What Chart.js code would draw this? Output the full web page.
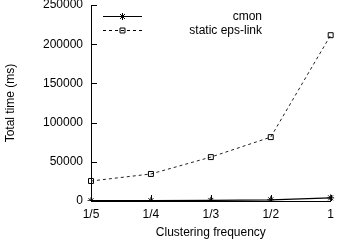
<!DOCTYPE html>
<html>
<head>
<meta charset="utf-8">
<script src="https://cdn.jsdelivr.net/npm/chart.js@4/dist/chart.umd.min.js"></script>
<style>
  html, body { margin: 0; padding: 0; background: #fff; }
  #wrap { width: 340px; height: 247px; position: relative; }
</style>
</head>
<body>
<div id="wrap"><canvas id="c"></canvas></div>
<script>
// Values
const categories = ['1/5', '1/4', '1/3', '1/2', '1'];
const cmonTimes = [300, 400, 800, 1500, 4000];
const staticTimes = [25500, 34500, 56000, 81500, 211500];
const yTicks = [0, 50000, 100000, 150000, 200000, 250000];
const seriesNames = ['cmon', 'static eps-link'];

const FONT = 'Liberation Sans, Arial, Helvetica, sans-serif';
Chart.defaults.font.family = FONT;
Chart.defaults.font.size = 12;
Chart.defaults.color = '#000';

// gnuplot style inward tick marks
const innerTicks = {
  id: 'innerTicks',
  afterDraw(chart) {
    const ctx = chart.ctx, x = chart.scales.x, y = chart.scales.y;
    const a = chart.chartArea;
    ctx.save();
    ctx.strokeStyle = '#000';
    ctx.lineWidth = 1;
    ctx.beginPath();
    yTicks.forEach(v => {
      const py = Math.round(y.getPixelForValue(v)) + 0.5;
      ctx.moveTo(a.left, py); ctx.lineTo(a.left + 6, py);
    });
    categories.forEach((c, i) => {
      const px = Math.round(x.getPixelForValue(i)) + 0.5;
      ctx.moveTo(px, a.bottom); ctx.lineTo(px, a.bottom - 6);
    });
    ctx.stroke();
    ctx.restore();
  }
};

// key in the top left: text right-aligned, sample line right of it
const keyBox = {
  id: 'keyBox',
  afterDraw(chart) {
    const ctx = chart.ctx;
    ctx.save();
    ctx.font = '12px ' + FONT;
    ctx.textAlign = 'right';
    ctx.textBaseline = 'middle';
    chart.data.datasets.forEach((ds, i) => {
      const yy = 16.5 + i * 14;
      ctx.fillStyle = '#000';
      ctx.fillText(ds.label, 262, yy);
      ctx.strokeStyle = '#000';
      ctx.lineWidth = 1;
      ctx.setLineDash(ds.borderDash || []);
      ctx.beginPath();
      ctx.moveTo(103, yy); ctx.lineTo(142, yy);
      ctx.stroke();
      ctx.setLineDash([]);
      ctx.fillStyle = ds.pointBackgroundColor;
      Chart.helpers.drawPoint(ctx, {
        pointStyle: ds.pointStyle, radius: ds.pointRadius, rotation: 0,
        borderWidth: 1
      }, 122.5, yy);
    });
    ctx.restore();
  }
};

new Chart(document.getElementById('c'), {
  type: 'line',
  data: {
    labels: categories,
    datasets: [{
      label: seriesNames[0],
      data: cmonTimes,
      borderColor: '#000',
      borderWidth: 1.3,
      pointStyle: 'star',
      pointRadius: 3.5,
      pointBorderColor: '#000',
      pointBackgroundColor: '#000',
      pointBorderWidth: 1,
      tension: 0
    }, {
      label: seriesNames[1],
      data: staticTimes,
      borderColor: '#222',
      borderWidth: 1,
      borderDash: [3, 3],
      pointStyle: 'rect',
      pointRadius: 3.5,
      pointBorderColor: '#000',
      pointBackgroundColor: 'rgba(0,0,0,0)',
      pointBorderWidth: 1,
      tension: 0
    }]
  },
  options: {
    responsive: true,
    maintainAspectRatio: false,
    animation: false,
    layout: { padding: { top: 5, right: 3, left: 0, bottom: 0 } },
    plugins: {
      legend: { display: false },
      tooltip: { enabled: false }
    },
    scales: {
      x: {
        type: 'category',
        offset: false,
        grid: { display: false, drawTicks: false },
        border: { display: true, color: '#000', width: 1 },
        ticks: { padding: 6, maxRotation: 0, autoSkip: false, font: { size: 12 } },
        title: { display: true, text: 'Clustering frequency', font: { size: 12 }, padding: { top: 2, bottom: 7 } },
        afterFit(s) { s.height = 46; }
      },
      y: {
        min: 0,
        max: 250000,
        afterBuildTicks(s) { s.ticks = yTicks.map(v => ({ value: v })); },
        grid: { display: false, drawTicks: false },
        border: { display: true, color: '#000', width: 1 },
        ticks: { padding: 8, font: { size: 12 }, callback: v => String(v) },
        title: { display: true, text: 'Total time (ms)', font: { size: 12 }, padding: { top: 3, bottom: 0 } },
        afterFit(s) { s.width = 91; s.paddingTop = 0; s.paddingBottom = 0; }
      }
    }
  },
  plugins: [innerTicks, keyBox]
});
</script>
</body>
</html>
